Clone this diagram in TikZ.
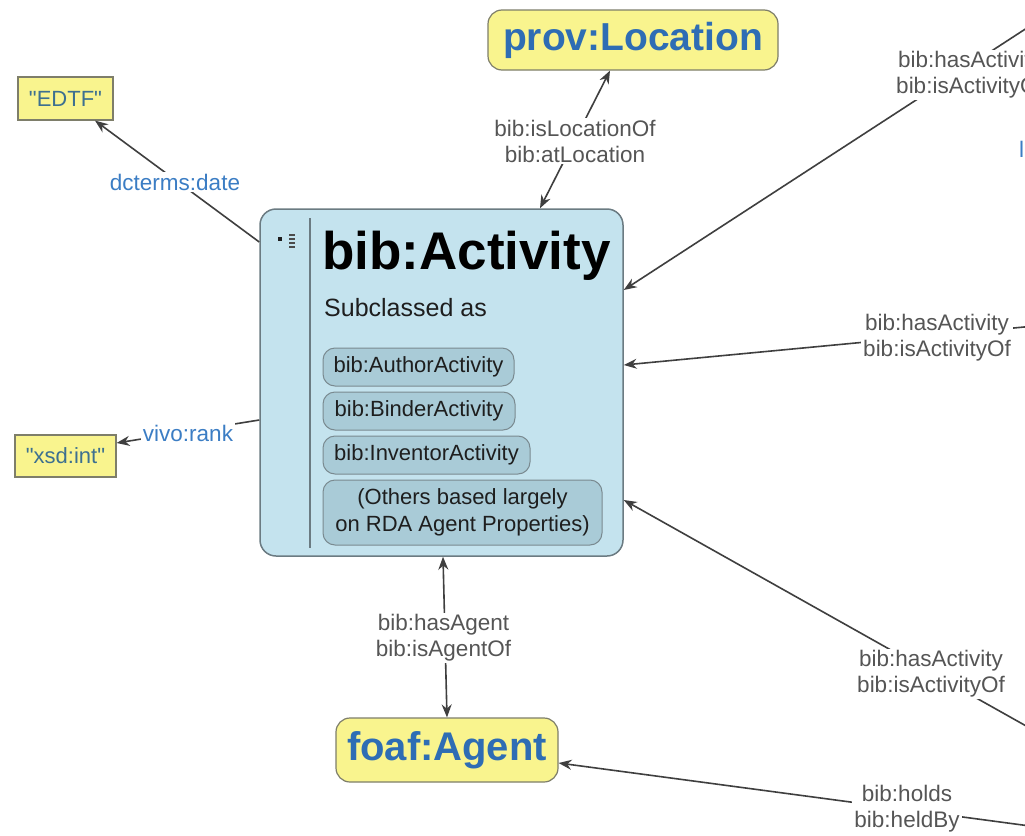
\documentclass[tikz,border=0pt]{standalone}
\usepackage{fontspec}
\setmainfont{Liberation Sans}
\usetikzlibrary{arrows.meta}
\definecolor{yfill}{HTML}{F9F48E}
\definecolor{ybord}{HTML}{7E7E6A}
\definecolor{tblue}{HTML}{2E6DB4}
\definecolor{litblue}{HTML}{3D7090}
\definecolor{bfill}{HTML}{C4E3EE}
\definecolor{bbord}{HTML}{6B7B82}
\definecolor{pillfill}{HTML}{A9CBD7}
\definecolor{pillbord}{HTML}{7A8A90}
\definecolor{darktext}{HTML}{1E1E1E}
\definecolor{labgray}{HTML}{555555}
\definecolor{labblue}{HTML}{3B7DC4}
\definecolor{linegray}{HTML}{3F3F3F}
\tikzset{
  clsbox/.style={draw=ybord, fill=yfill, rounded corners=14pt, line width=1.2pt, inner sep=0pt, text=tblue},
  litbox/.style={draw=ybord, fill=yfill, line width=1.2pt, inner sep=0pt, font=\fontsize{22}{26}\selectfont, text=litblue},
  mainbox/.style={draw=bbord, fill=bfill, rounded corners=16pt, line width=1.5pt, inner sep=0pt},
  pill/.style={draw=pillbord, fill=pillfill, rounded corners=12pt, line width=1pt, inner sep=0pt, font=\fontsize{22}{27}\selectfont, text=darktext, align=center},
  elab/.style={fill=white, inner sep=2pt, align=center, font=\fontsize{22.5}{26}\selectfont, text=labgray},
  dlab/.style={fill=white, inner sep=2pt, font=\fontsize{22.5}{26}\selectfont, text=labblue},
  conn/.style={draw=linegray, line width=1.6pt},
  arr/.style={conn, -{Stealth[length=13pt,width=10pt]}},
  darr/.style={conn, {Stealth[length=13pt,width=10pt]}-{Stealth[length=13pt,width=10pt]}},
}
\begin{document}
\begin{tikzpicture}[x=1pt,y=-1pt]
\useasboundingbox (0,0) rectangle (1025,835);
\clip (0,0) rectangle (1025,835);
\fill[white] (0,0) rectangle (1025,835);

% main class box
\node[mainbox, minimum width=363pt, minimum height=347pt] (act) at (441.5,382.5) {};
\draw[draw=bbord, line width=1.2pt] (310,218) -- (310,548);
\fill[darktext] (278,237) rectangle (282,241);
\foreach \yy in {234,238,242,246} \fill[darktext!80] (289,\yy) rectangle (295,\yy+2);
\node[anchor=base west, inner sep=0pt, text=black, font=\bfseries\fontsize{53}{60}\selectfont] (title) at (322,269) {bib:Activity};
\node[anchor=base west, inner sep=0pt, text=darktext, font=\fontsize{25}{29}\selectfont] (sub) at (324,316) {Subclassed as};
\node[pill, minimum width=191pt, minimum height=38pt] (p1) at (418.5,367) {bib:AuthorActivity};
\node[pill, minimum width=192pt, minimum height=38pt] (p2) at (419,411) {bib:BinderActivity};
\node[pill, minimum width=207pt, minimum height=38pt] (p3) at (426.5,455) {bib:InventorActivity};
\node[pill, minimum width=279pt, minimum height=65pt] (p4) at (462.5,512.5) {(Others based largely\\on RDA Agent Properties)};

% other nodes
\node[clsbox, minimum width=290pt, minimum height=60pt, font=\bfseries\fontsize{39}{47}\selectfont] (loc) at (633,40) {\raisebox{-3pt}{prov:Location}};
\node[clsbox, minimum width=222pt, minimum height=64pt, font=\bfseries\fontsize{40}{48}\selectfont] (agent) at (447,750) {foaf:Agent};
\node[litbox, minimum width=95pt, minimum height=43pt] (edtf) at (65.5,98.5) {\textquotedbl EDTF\textquotedbl};
\node[litbox, minimum width=101pt, minimum height=42pt] (xsd) at (65.5,456) {\textquotedbl xsd:int\textquotedbl};

% off-picture ends
\coordinate (ext1) at (1070,0);
\coordinate (ext2) at (1060,323.6);
\coordinate (ext3) at (1060,745);
\coordinate (ext4) at (1060,830);

% connectors
\draw[arr] ([yshift=140.5pt]act.west) -- ([xshift=29.5pt]edtf.south);
\draw[arr] ([yshift=-37.5pt]act.west) -- ([yshift=13pt]xsd.east);
\draw[darr] ([xshift=98.5pt]act.north) -- ([xshift=-23pt]loc.south);
\draw[darr] ([xshift=1.5pt]act.south) -- ([xshift=0pt]agent.north);
\draw[arr] (ext1) -- ([yshift=92.5pt]act.east);
\draw[arr] (ext2) -- ([yshift=17.5pt]act.east);
\draw[arr] (ext3) -- ([yshift=-117.5pt]act.east);
\draw[arr] (ext4) -- ([yshift=-13pt]agent.east);

% labels
\node[dlab] (l1) at (175,182) {dcterms:date};
\node[dlab] (l2) at (188,433) {vivo:rank};
\node[elab] (l3) at (575,141) {bib:isLocationOf\\bib:atLocation};
\node[elab] (l4) at (443.5,638) {bib:hasAgent\\bib:isAgentOf};
\node[elab] (l5) at (970,75) {bib:hasActivity\\bib:isActivityOf};
\node[elab] (l6) at (937,338) {bib:hasActivity\\bib:isActivityOf};
\node[elab] (l7) at (931,674) {bib:hasActivity\\bib:isActivityOf};
\node[elab] (l8) at (907,809) {bib:holds\\bib:heldBy};
\node[anchor=base west, inner sep=0pt, text=labblue, font=\fontsize{22.5}{26}\selectfont] (frag) at (1019,157) {l};
\end{tikzpicture}
\end{document}
